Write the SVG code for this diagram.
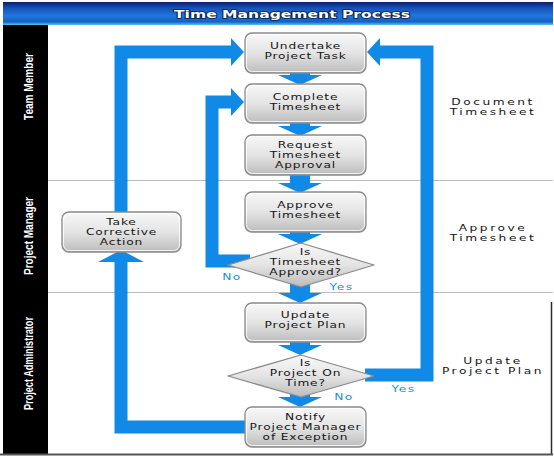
<svg xmlns="http://www.w3.org/2000/svg" width="554" height="458" viewBox="0 0 554 458">
<style>
.lane{stroke:#bdbdbd;stroke-width:1;fill:none}
.flow{stroke:#1189e6;fill:none;stroke-linejoin:miter}
.loop{stroke-width:13}
.down{stroke-width:20}
.box{fill:url(#gbox);stroke:#8a8a8a;stroke-width:1.3}
.hl{fill:none;stroke:#ffffff;stroke-opacity:0.8;stroke-width:1}
.t{font-family:"DejaVu Sans",Verdana,sans-serif;font-size:8.6px;fill:#151515;text-anchor:middle;letter-spacing:0.6px}
.r{font-family:"DejaVu Sans",Verdana,sans-serif;font-size:8.6px;fill:#151515;text-anchor:middle;letter-spacing:1.8px}
.yn{font-family:"DejaVu Sans",Verdana,sans-serif;font-size:9.5px;fill:#1a8fe6;text-anchor:middle;letter-spacing:1px}
.lanet{font-family:"Liberation Sans Narrow","Liberation Sans",Arial,sans-serif;font-weight:bold;font-size:13px;fill:#ffffff;text-anchor:middle}
</style>
<defs>
<linearGradient id="ghead" x1="0" y1="0" x2="0" y2="1">
<stop offset="0" stop-color="#0a1f66"/>
<stop offset="0.25" stop-color="#1550b8"/>
<stop offset="0.6" stop-color="#1f78dc"/>
<stop offset="0.86" stop-color="#1560c0"/>
<stop offset="1" stop-color="#54c4f4"/>
</linearGradient>
<linearGradient id="gbox" x1="0" y1="0" x2="0" y2="1">
<stop offset="0" stop-color="#f8f8f8"/>
<stop offset="0.5" stop-color="#e4e4e4"/>
<stop offset="1" stop-color="#bcbcbc"/>
</linearGradient>
<marker id="hd" markerUnits="userSpaceOnUse" markerWidth="10" markerHeight="44" viewBox="0 0 10 44" refX="0" refY="22" orient="auto">
<path d="M0,0 L10,22 L0,44 z" fill="#1189e6"/>
</marker>
<marker id="hs" markerUnits="userSpaceOnUse" markerWidth="13" markerHeight="28" viewBox="0 0 13 28" refX="0" refY="14" orient="auto">
<path d="M0,0 L13,14 L0,28 z" fill="#1189e6"/>
</marker>
<marker id="hu" markerUnits="userSpaceOnUse" markerWidth="12" markerHeight="46" viewBox="0 0 12 46" refX="0" refY="23" orient="auto">
<path d="M0,0 L12,23 L0,46 z" fill="#1189e6"/>
</marker>
</defs>

<rect x="0" y="0" width="554" height="458" fill="#ffffff"/>
<g id="frame">
<rect x="3" y="2" width="550" height="23" fill="url(#ghead)"/>
<text x="292" y="17.5" textLength="236" lengthAdjust="spacingAndGlyphs" font-family="'DejaVu Sans',Verdana,sans-serif" font-weight="bold" font-size="10.5" fill="#ffffff" stroke="#0a2050" stroke-width="1.6" paint-order="stroke" text-anchor="middle">Time Management Process</text>
<rect x="3" y="25" width="45" height="430" fill="#000000"/>
<line class="lane" x1="48" y1="180.5" x2="553" y2="180.5"/>
<line class="lane" x1="48" y1="292.5" x2="553" y2="292.5"/>
<line x1="551.5" y1="302" x2="551.5" y2="455" stroke="#2a2a2a" stroke-width="1.5"/>
<line x1="0" y1="454.5" x2="553" y2="454.5" stroke="#555555" stroke-width="2"/>
<text class="lanet" transform="translate(33 86.5) rotate(-90)" textLength="67" lengthAdjust="spacingAndGlyphs">Team Member</text>
<text class="lanet" transform="translate(33 236) rotate(-90)" textLength="78" lengthAdjust="spacingAndGlyphs">Project Manager</text>
<text class="lanet" transform="translate(33 363.5) rotate(-90)" textLength="93" lengthAdjust="spacingAndGlyphs">Project Administrator</text>
</g>

<g id="stages">
<g transform="translate(493 0) scale(1.42 1)">
<text class="r" x="0" y="105.5">Document</text>
<text class="r" x="0" y="115.5">Timesheet</text>
<text class="r" x="0" y="231">Approve</text>
<text class="r" x="0" y="241">Timesheet</text>
<text class="r" x="0" y="364">Update</text>
<text class="r" x="0" y="374">Project Plan</text>
</g>
</g>

<g id="connectors">
<path class="flow loop" d="M245,427 H121 V262" marker-end="url(#hu)"/>
<path class="flow loop" d="M121,212 V52 H231" marker-end="url(#hs)"/>
<path class="flow loop" d="M250,261 H212 V102 H231" marker-end="url(#hs)"/>
<path class="flow loop" d="M365,375 H427 V52 H380" marker-end="url(#hs)"/>
<path class="flow down" d="M300,70 V75" marker-end="url(#hd)"/>
<path class="flow down" d="M300,120 V126" marker-end="url(#hd)"/>
<path class="flow down" d="M300,172 V183" marker-end="url(#hd)"/>
<path class="flow down" d="M300,229 V234" marker-end="url(#hd)"/>
<path class="flow down" d="M300,280 V293" marker-end="url(#hd)"/>
<path class="flow down" d="M300,339 V345" marker-end="url(#hd)"/>
<path class="flow down" d="M300,390 V397" marker-end="url(#hd)"/>
<g transform="translate(232 0) scale(1.3 1)"><text class="yn" x="0" y="280">No</text></g>
<g transform="translate(341.5 0) scale(1.3 1)"><text class="yn" x="0" y="290">Yes</text></g>
<g transform="translate(344 0) scale(1.3 1)"><text class="yn" x="0" y="400">No</text></g>
<g transform="translate(403.5 0) scale(1.3 1)"><text class="yn" x="0" y="392">Yes</text></g>
</g>

<g id="undertake">
<rect class="box" x="245" y="33" width="121" height="40" rx="7"/>
<rect class="hl" x="246.5" y="34.5" width="118" height="37" rx="6"/>
<g transform="translate(305.5 0) scale(1.42 1)"><text class="t" x="0" y="49.5">Undertake</text><text class="t" x="0" y="59.5">Project Task</text></g>
</g>
<g id="complete">
<rect class="box" x="245" y="84" width="121" height="39" rx="7"/>
<rect class="hl" x="246.5" y="85.5" width="118" height="36" rx="6"/>
<g transform="translate(305.5 0) scale(1.42 1)"><text class="t" x="0" y="100.5">Complete</text><text class="t" x="0" y="110.5">Timesheet</text></g>
</g>
<g id="request">
<rect class="box" x="245" y="135" width="121" height="40" rx="7"/>
<rect class="hl" x="246.5" y="136.5" width="118" height="37" rx="6"/>
<g transform="translate(305.5 0) scale(1.42 1)"><text class="t" x="0" y="148">Request</text><text class="t" x="0" y="158">Timesheet</text><text class="t" x="0" y="168">Approval</text></g>
</g>
<g id="approve">
<rect class="box" x="245" y="192" width="121" height="40" rx="7"/>
<rect class="hl" x="246.5" y="193.5" width="118" height="37" rx="6"/>
<g transform="translate(305.5 0) scale(1.42 1)"><text class="t" x="0" y="208.5">Approve</text><text class="t" x="0" y="218.5">Timesheet</text></g>
</g>
<g id="approved-decision">
<polygon class="box" points="228,265 301,243 374,265 301,287" stroke-linejoin="round"/>
<g transform="translate(305.5 0) scale(1.42 1)"><text class="t" x="0" y="255.5">Is</text><text class="t" x="0" y="265.5">Timesheet</text><text class="t" x="0" y="275.5">Approved?</text></g>
</g>
<g id="update">
<rect class="box" x="245" y="303" width="121" height="39" rx="7"/>
<rect class="hl" x="246.5" y="304.5" width="118" height="36" rx="6"/>
<g transform="translate(305.5 0) scale(1.42 1)"><text class="t" x="0" y="318.5">Update</text><text class="t" x="0" y="328.5">Project Plan</text></g>
</g>
<g id="ontime-decision">
<polygon class="box" points="228,376 301,355 374,376 301,397" stroke-linejoin="round"/>
<g transform="translate(305.5 0) scale(1.42 1)"><text class="t" x="0" y="366.5">Is</text><text class="t" x="0" y="376.5">Project On</text><text class="t" x="0" y="386.5">Time?</text></g>
</g>
<g id="notify">
<rect class="box" x="245" y="407" width="121" height="40" rx="7"/>
<rect class="hl" x="246.5" y="408.5" width="118" height="37" rx="6"/>
<g transform="translate(305.5 0) scale(1.42 1)"><text class="t" x="0" y="420">Notify</text><text class="t" x="0" y="430">Project Manager</text><text class="t" x="0" y="440">of Exception</text></g>
</g>
<g id="corrective">
<rect class="box" x="62" y="212" width="119" height="40" rx="7"/>
<rect class="hl" x="63.5" y="213.5" width="116" height="37" rx="6"/>
<g transform="translate(121.5 0) scale(1.42 1)"><text class="t" x="0" y="225">Take</text><text class="t" x="0" y="235">Corrective</text><text class="t" x="0" y="245">Action</text></g>
</g>
</svg>
